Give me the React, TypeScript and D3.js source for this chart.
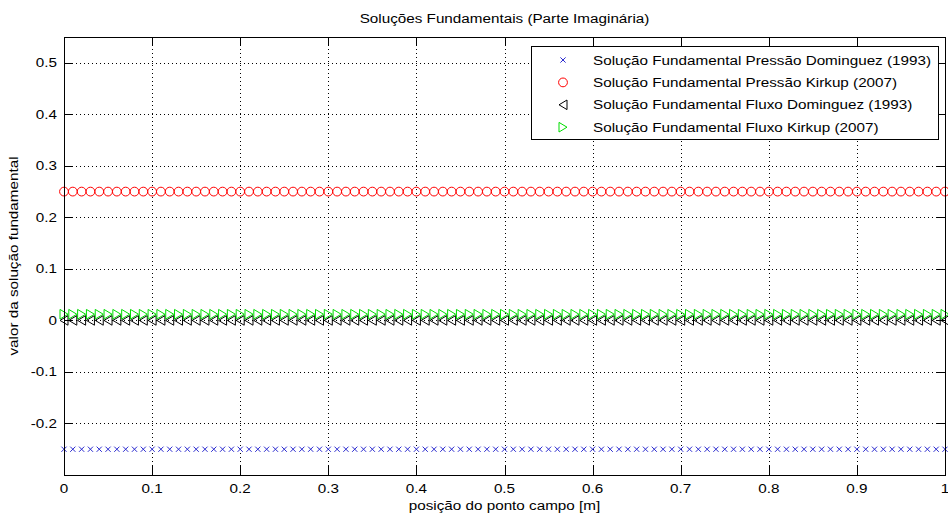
import React from 'react';
import * as d3 from 'd3';

// posição do ponto campo [m]
const posicao = [
	0, 0.01, 0.02, 0.03, 0.04, 0.05, 0.06, 0.07, 0.08, 0.09,
	0.1, 0.11, 0.12, 0.13, 0.14, 0.15, 0.16, 0.17, 0.18, 0.19,
	0.2, 0.21, 0.22, 0.23, 0.24, 0.25, 0.26, 0.27, 0.28, 0.29,
	0.3, 0.31, 0.32, 0.33, 0.34, 0.35, 0.36, 0.37, 0.38, 0.39,
	0.4, 0.41, 0.42, 0.43, 0.44, 0.45, 0.46, 0.47, 0.48, 0.49,
	0.5, 0.51, 0.52, 0.53, 0.54, 0.55, 0.56, 0.57, 0.58, 0.59,
	0.6, 0.61, 0.62, 0.63, 0.64, 0.65, 0.66, 0.67, 0.68, 0.69,
	0.7, 0.71, 0.72, 0.73, 0.74, 0.75, 0.76, 0.77, 0.78, 0.79,
	0.8, 0.81, 0.82, 0.83, 0.84, 0.85, 0.86, 0.87, 0.88, 0.89,
	0.9, 0.91, 0.92, 0.93, 0.94, 0.95, 0.96, 0.97, 0.98, 0.99,
	1
];

const pressaoDominguez = [
	-0.25, -0.25, -0.25, -0.25, -0.25, -0.25, -0.25, -0.25, -0.25, -0.25,
	-0.25, -0.25, -0.25, -0.25, -0.25, -0.25, -0.25, -0.25, -0.25, -0.25,
	-0.25, -0.25, -0.25, -0.25, -0.25, -0.25, -0.25, -0.25, -0.25, -0.25,
	-0.25, -0.25, -0.25, -0.25, -0.25, -0.25, -0.25, -0.25, -0.25, -0.25,
	-0.25, -0.25, -0.25, -0.25, -0.25, -0.25, -0.25, -0.25, -0.25, -0.25,
	-0.25, -0.25, -0.25, -0.25, -0.25, -0.25, -0.25, -0.25, -0.25, -0.25,
	-0.25, -0.25, -0.25, -0.25, -0.25, -0.25, -0.25, -0.25, -0.25, -0.25,
	-0.25, -0.25, -0.25, -0.25, -0.25, -0.25, -0.25, -0.25, -0.25, -0.25,
	-0.25, -0.25, -0.25, -0.25, -0.25, -0.25, -0.25, -0.25, -0.25, -0.25,
	-0.25, -0.25, -0.25, -0.25, -0.25, -0.25, -0.25, -0.25, -0.25, -0.25,
	-0.25
];

const pressaoKirkup = [
	0.25, 0.25, 0.25, 0.25, 0.25, 0.25, 0.25, 0.25, 0.25, 0.25,
	0.25, 0.25, 0.25, 0.25, 0.25, 0.25, 0.25, 0.25, 0.25, 0.25,
	0.25, 0.25, 0.25, 0.25, 0.25, 0.25, 0.25, 0.25, 0.25, 0.25,
	0.25, 0.25, 0.25, 0.25, 0.25, 0.25, 0.25, 0.25, 0.25, 0.25,
	0.25, 0.25, 0.25, 0.25, 0.25, 0.25, 0.25, 0.25, 0.25, 0.25,
	0.25, 0.25, 0.25, 0.25, 0.25, 0.25, 0.25, 0.25, 0.25, 0.25,
	0.25, 0.25, 0.25, 0.25, 0.25, 0.25, 0.25, 0.25, 0.25, 0.25,
	0.25, 0.25, 0.25, 0.25, 0.25, 0.25, 0.25, 0.25, 0.25, 0.25,
	0.25, 0.25, 0.25, 0.25, 0.25, 0.25, 0.25, 0.25, 0.25, 0.25,
	0.25, 0.25, 0.25, 0.25, 0.25, 0.25, 0.25, 0.25, 0.25, 0.25,
	0.25
];

const fluxoDominguez = [
	0, 0, 0, 0, 0, 0, 0, 0, 0, 0,
	0, 0, 0, 0, 0, 0, 0, 0, 0, 0,
	0, 0, 0, 0, 0, 0, 0, 0, 0, 0,
	0, 0, 0, 0, 0, 0, 0, 0, 0, 0,
	0, 0, 0, 0, 0, 0, 0, 0, 0, 0,
	0, 0, 0, 0, 0, 0, 0, 0, 0, 0,
	0, 0, 0, 0, 0, 0, 0, 0, 0, 0,
	0, 0, 0, 0, 0, 0, 0, 0, 0, 0,
	0, 0, 0, 0, 0, 0, 0, 0, 0, 0,
	0, 0, 0, 0, 0, 0, 0, 0, 0, 0,
	0
];

const fluxoKirkup = [
	0.012, 0.012, 0.012, 0.012, 0.012, 0.012, 0.012, 0.012, 0.012, 0.012,
	0.012, 0.012, 0.012, 0.012, 0.012, 0.012, 0.012, 0.012, 0.012, 0.012,
	0.012, 0.012, 0.012, 0.012, 0.012, 0.012, 0.012, 0.012, 0.012, 0.012,
	0.012, 0.012, 0.012, 0.012, 0.012, 0.012, 0.012, 0.012, 0.012, 0.012,
	0.012, 0.012, 0.012, 0.012, 0.012, 0.012, 0.012, 0.012, 0.012, 0.012,
	0.012, 0.012, 0.012, 0.012, 0.012, 0.012, 0.012, 0.012, 0.012, 0.012,
	0.012, 0.012, 0.012, 0.012, 0.012, 0.012, 0.012, 0.012, 0.012, 0.012,
	0.012, 0.012, 0.012, 0.012, 0.012, 0.012, 0.012, 0.012, 0.012, 0.012,
	0.012, 0.012, 0.012, 0.012, 0.012, 0.012, 0.012, 0.012, 0.012, 0.012,
	0.012, 0.012, 0.012, 0.012, 0.012, 0.012, 0.012, 0.012, 0.012, 0.012,
	0.012
];

const xTicks = [0, 0.1, 0.2, 0.3, 0.4, 0.5, 0.6, 0.7, 0.8, 0.9, 1];
const xTickLabels = ['0', '0.1', '0.2', '0.3', '0.4', '0.5', '0.6', '0.7', '0.8', '0.9', '1'];
const yTicks = [-0.2, -0.1, 0, 0.1, 0.2, 0.3, 0.4, 0.5];
const yTickLabels = ['-0.2', '-0.1', '0', '0.1', '0.2', '0.3', '0.4', '0.5'];

const legendLabels = [
	'Solução Fundamental Pressão Dominguez (1993)',
	'Solução Fundamental Pressão Kirkup (2007)',
	'Solução Fundamental Fluxo Dominguez (1993)',
	'Solução Fundamental Fluxo Kirkup (2007)'
];

const FONT = '"Liberation Sans", Arial, sans-serif';

// matlab's text is wider than arial, stretch the glyphs a bit
function widen(sel: any, k = 1.27) {
	sel.each(function (this: any) {
		const len = this.getComputedTextLength();
		d3.select(this)
			.attr('textLength', len * k)
			.attr('lengthAdjust', 'spacingAndGlyphs');
	});
}

const markers: any = {
	x: { path: 'M-2.6,-2.6L2.6,2.6M-2.6,2.6L2.6,-2.6', color: '#2a2ad0', fill: 'none' },
	o: { path: d3.symbol().type(d3.symbolCircle).size(Math.PI * 4.4 * 4.4)() as string, color: '#ff0000', fill: 'none' },
	left: { path: 'M-4,0L4,-4.8L4,4.8Z', color: '#000000', fill: 'none' },
	right: { path: 'M4,0L-4,-4.8L-4,4.8Z', color: '#00dd00', fill: 'none' }
};

class Chart extends React.Component<any, any> {
	componentDidMount() {
		this.drawChart();
	}

	drawChart() {
		const w = 948;
		const h = 519;
		const left = 64, right = 945, top = 37, bottom = 475;

		d3.select('#chart').selectAll('*').remove();

		const xScale = d3.scaleLinear().domain([0, 1]).range([left, right]);
		const yScale = d3.scaleLinear().domain([-0.3, 0.55]).range([bottom, top]);

		const svg = d3
			.select('#chart')
			.append('svg')
			.attr('width', w)
			.attr('height', h)
			.style('display', 'block')
			.style('background', '#ffffff');

		// grid
		const grid = svg.append('g')
			.attr('stroke', '#000')
			.attr('stroke-width', 1)
			.attr('stroke-dasharray', '1,3');
		grid.selectAll('line.gx')
			.data(xTicks.slice(1, -1))
			.enter()
			.append('line')
			.attr('x1', d => Math.round(xScale(d)) + 0.5)
			.attr('x2', d => Math.round(xScale(d)) + 0.5)
			.attr('y1', top)
			.attr('y2', bottom);
		grid.selectAll('line.gy')
			.data(yTicks)
			.enter()
			.append('line')
			.attr('x1', left)
			.attr('x2', right)
			.attr('y1', d => Math.round(yScale(d)) + 0.5)
			.attr('y2', d => Math.round(yScale(d)) + 0.5);

		// ticks (inside, on all four sides)
		const tl = 9;
		const ticks = svg.append('g').attr('stroke', '#000').attr('stroke-width', 1);
		xTicks.forEach(t => {
			const x = Math.round(xScale(t)) + 0.5;
			ticks.append('line').attr('x1', x).attr('x2', x).attr('y1', bottom).attr('y2', bottom - tl);
			ticks.append('line').attr('x1', x).attr('x2', x).attr('y1', top).attr('y2', top + tl);
		});
		yTicks.forEach(t => {
			const y = Math.round(yScale(t)) + 0.5;
			ticks.append('line').attr('x1', left).attr('x2', left + tl).attr('y1', y).attr('y2', y);
			ticks.append('line').attr('x1', right).attr('x2', right - tl).attr('y1', y).attr('y2', y);
		});

		// series
		const series = [
			{ values: pressaoDominguez, marker: markers.x },
			{ values: pressaoKirkup, marker: markers.o },
			{ values: fluxoDominguez, marker: markers.left },
			{ values: fluxoKirkup, marker: markers.right }
		];
		series.forEach(s => {
			svg.append('g')
				.selectAll('path')
				.data(s.values)
				.enter()
				.append('path')
				.attr('transform', (d, i) => `translate(${xScale(posicao[i])},${yScale(d)})`)
				.attr('d', s.marker.path)
				.attr('fill', s.marker.fill)
				.attr('stroke', s.marker.color)
				.attr('stroke-width', 1);
		});

		// box
		svg.append('rect')
			.attr('x', left + 0.5)
			.attr('y', top + 0.5)
			.attr('width', right - left)
			.attr('height', bottom - top)
			.attr('fill', 'none')
			.attr('stroke', '#000');

		// tick labels
		const xl = svg.append('g')
			.selectAll('text')
			.data(xTicks)
			.enter()
			.append('text')
			.text((d, i) => xTickLabels[i])
			.attr('x', d => xScale(d))
			.attr('y', 493)
			.attr('text-anchor', 'middle')
			.attr('font-family', FONT)
			.attr('font-size', '12px')
			.attr('fill', '#000');
		widen(xl);

		const yl = svg.append('g')
			.selectAll('text')
			.data(yTicks)
			.enter()
			.append('text')
			.text((d, i) => yTickLabels[i])
			.attr('x', 57)
			.attr('y', d => yScale(d) + 4.5)
			.attr('text-anchor', 'end')
			.attr('font-family', FONT)
			.attr('font-size', '12px')
			.attr('fill', '#000');
		widen(yl);

		// title and axis labels
		const title = svg.append('text')
			.text('Soluções Fundamentais (Parte Imaginária)')
			.attr('x', (left + right) / 2)
			.attr('y', 23)
			.attr('text-anchor', 'middle')
			.attr('font-family', FONT)
			.attr('font-size', '12px');
		widen(title);

		const xlabel = svg.append('text')
			.text('posição do ponto campo [m]')
			.attr('x', (left + right) / 2)
			.attr('y', 510)
			.attr('text-anchor', 'middle')
			.attr('font-family', FONT)
			.attr('font-size', '12px');
		widen(xlabel);

		const ylabel = svg.append('text')
			.text('valor da solução fundamental')
			.attr('transform', `translate(18,${(top + bottom) / 2}) rotate(-90)`)
			.attr('text-anchor', 'middle')
			.attr('font-family', FONT)
			.attr('font-size', '12px');
		widen(ylabel);

		// legend
		const lx = 531, ly = 46, lw = 407, lh = 93;
		const legend = svg.append('g');
		legend.append('rect')
			.attr('x', lx + 0.5)
			.attr('y', ly + 0.5)
			.attr('width', lw)
			.attr('height', lh)
			.attr('fill', '#fff')
			.attr('stroke', '#000');

		const items = legend.selectAll('g.item')
			.data(series)
			.enter()
			.append('g')
			.attr('transform', (d, i) => `translate(0,${60 + i * 22.4})`);
		items.append('path')
			.attr('transform', 'translate(563,0)')
			.attr('d', d => d.marker.path)
			.attr('fill', 'none')
			.attr('stroke', d => d.marker.color);
		const lt = items.append('text')
			.text((d, i) => legendLabels[i])
			.attr('x', 593)
			.attr('y', 4.5)
			.attr('font-family', FONT)
			.attr('font-size', '12px')
			.attr('fill', '#000');
		widen(lt);
	}

	render() {
		return (
			<div id="chart" style={{ position: 'absolute', left: 0, top: 0 }} />
		);
	}
}

export default function App() {
	return <Chart />;
}
